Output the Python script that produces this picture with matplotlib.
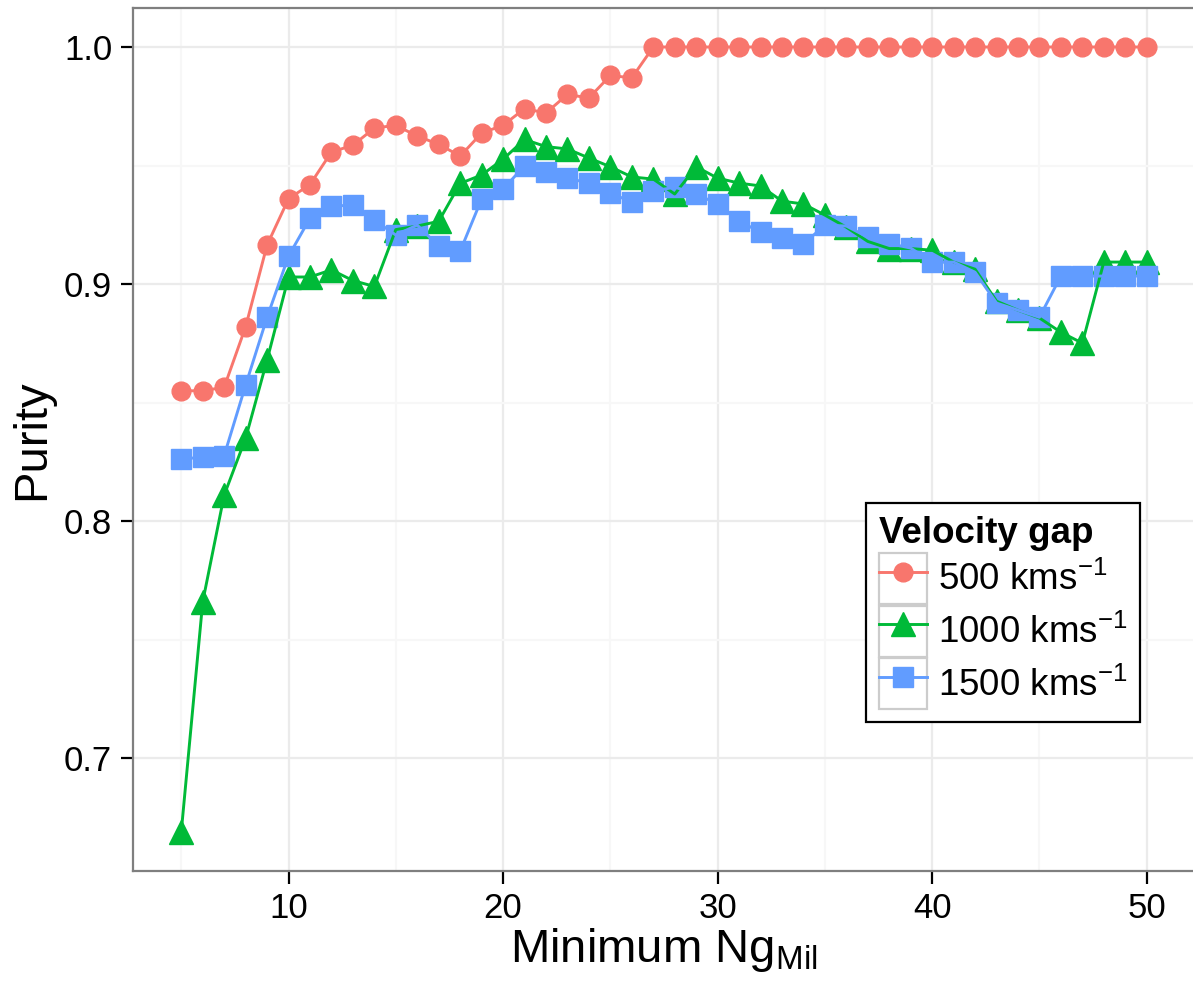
import matplotlib
matplotlib.use("Agg")
import matplotlib.pyplot as plt
import numpy as np
from matplotlib.legend_handler import HandlerLine2D
from matplotlib.patches import Rectangle

plt.rcParams['font.family'] = ['Liberation Sans', 'DejaVu Sans']
plt.rcParams['mathtext.default'] = 'regular'

# Minimum Ng_Mil
ng_min = np.arange(5, 51)

# purity for each velocity gap
purity_500 = [0.855, 0.855, 0.8565, 0.882, 0.9165, 0.936, 0.942, 0.9557, 0.9586, 0.9658,
              0.967, 0.9624, 0.959, 0.954, 0.9637, 0.967, 0.974, 0.9722, 0.980, 0.9785,
              0.988, 0.987, 1.0, 1.0, 1.0, 1.0, 1.0, 1.0, 1.0, 1.0,
              1.0, 1.0, 1.0, 1.0, 1.0, 1.0, 1.0, 1.0, 1.0, 1.0,
              1.0, 1.0, 1.0, 1.0, 1.0, 1.0]
purity_1000 = [0.669, 0.766, 0.811, 0.835, 0.868, 0.903, 0.903, 0.906, 0.9015, 0.899,
               0.923, 0.9245, 0.9265, 0.9425, 0.946, 0.9527, 0.961, 0.958, 0.957, 0.9532,
               0.9495, 0.9452, 0.9443, 0.938, 0.9495, 0.9447, 0.9426, 0.9414, 0.935, 0.9338,
               0.9291, 0.924, 0.918, 0.915, 0.915, 0.9143, 0.9093, 0.9063, 0.8928, 0.889,
               0.8857, 0.8797, 0.8751, 0.9093, 0.9093, 0.9093]
purity_1500 = [0.8262, 0.827, 0.8277, 0.8574, 0.886, 0.9118, 0.9278, 0.9329, 0.9333, 0.927,
               0.9207, 0.9249, 0.916, 0.9139, 0.9359, 0.940, 0.950, 0.9473, 0.9447, 0.9426,
               0.9384, 0.9346, 0.9392, 0.9409, 0.938, 0.9338, 0.9266, 0.9219, 0.9194, 0.9169,
               0.9249, 0.9245, 0.9198, 0.9171, 0.9152, 0.9093, 0.9093, 0.905, 0.892, 0.889,
               0.886, 0.9034, 0.9034, 0.9034, 0.9034, 0.9034]

labels = [r'500 kms$^{-1}$', r'1000 kms$^{-1}$', r'1500 kms$^{-1}$']
colors = ['#F8766D', '#00BA38', '#619CFF']
markers = ['o', '^', 's']
msizes = [13.5, 17, 14]
series = [purity_500, purity_1000, purity_1500]


class KeyBox(HandlerLine2D):
    # ggplot-like legend key with a grey box behind the symbol
    def create_artists(self, legend, orig_handle, xdescent, ydescent,
                       width, height, fontsize, trans):
        arts = super().create_artists(legend, orig_handle, xdescent, ydescent,
                                      width, height, fontsize, trans)
        box = Rectangle((-xdescent, -ydescent), width, height, facecolor='white',
                        edgecolor='#cccccc', linewidth=1.6, transform=trans)
        return [box] + list(arts)


W, H = 1193, 984
fig = plt.figure(figsize=(W / 100, H / 100), dpi=100)
ax = fig.add_axes([133 / W, (H - 871) / H, (1195 - 133) / W, (871 - 7.8) / H])

handles = []
for y, c, m, ms, lab in zip(series, colors, markers, msizes, labels):
    ax.plot(ng_min, y, color=c, lw=2.1, zorder=4)
    ax.plot(ng_min, y, linestyle='none', marker=m, ms=ms, color=c, mec=c, zorder=3)
    h, = ax.plot([], [], color=c, lw=2.1, marker=m, ms=ms, mec=c, label=lab)
    handles.append(h)

# ggplot style 5% expansion
allv = np.concatenate([np.asarray(s) for s in series])
ypad = 0.05 * (allv.max() - allv.min())
ax.set_ylim(allv.min() - ypad, allv.max() + ypad)
xpad = 0.05 * (ng_min.max() - ng_min.min())
ax.set_xlim(ng_min.min() - xpad, ng_min.max() + xpad)

ax.set_xticks([10, 20, 30, 40, 50])
ax.set_xticks([5, 15, 25, 35, 45], minor=True)
ax.set_yticks([0.7, 0.8, 0.9, 1.0])
ax.set_yticks([0.75, 0.85, 0.95], minor=True)
ax.set_yticklabels(['0.7', '0.8', '0.9', '1.0'])
ax.grid(which='major', color='#ebebeb', lw=1.6, zorder=0)
ax.grid(which='minor', color='#f7f7f7', lw=1.6, zorder=0)
ax.set_axisbelow(True)

ax.tick_params(which='major', length=9, width=1.6, color='black', labelsize=25,
               pad=6, direction='out')
ax.tick_params(which='minor', length=0)
for s in ax.spines.values():
    s.set_color('#7f7f7f')
    s.set_linewidth(1.6)

ax.set_xlabel(r'Minimum Ng$_{Mil}$', fontsize=34, labelpad=1)
ax.set_ylabel('Purity', fontsize=34, labelpad=7)

leg = ax.legend(handles=handles, loc='upper left', bbox_to_anchor=(0.69, 0.426),
                borderaxespad=0, title='Velocity gap', alignment='left',
                fontsize=26.5, title_fontproperties={'weight': 'bold', 'size': 26.5},
                handlelength=1.3, handleheight=1.75, handletextpad=0.3,
                labelspacing=0.05, borderpad=0.35, fancybox=False, framealpha=1,
                edgecolor='black', handler_map={matplotlib.lines.Line2D: KeyBox()})
leg.get_frame().set_linewidth(1.6)

fig.savefig('out.png', dpi=100)
